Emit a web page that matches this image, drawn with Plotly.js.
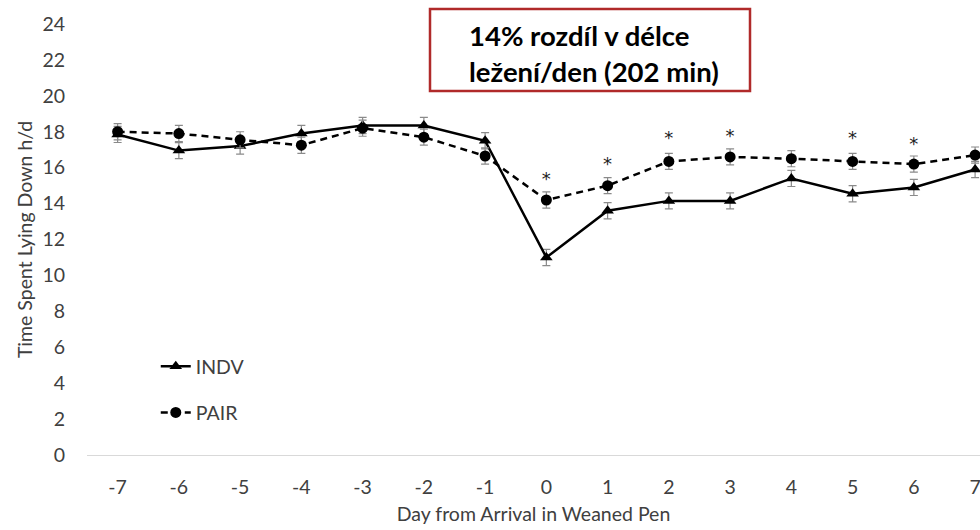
<!DOCTYPE html>
<html>
<head>
<meta charset="utf-8">
<script src="https://cdn.plot.ly/plotly-3.0.1.min.js"></script>
<style>html,body{margin:0;padding:0;background:#fff;overflow:hidden}#chart{width:980px;height:530px}</style>
</head>
<body>
<div id="chart"></div>
<script>
const days = [-7,-6,-5,-4,-3,-2,-1,0,1,2,3,4,5,6,7];
const indv = [17.85,16.95,17.2,17.9,18.35,18.35,17.5,11.0,13.6,14.15,14.15,15.4,14.55,14.9,15.9];
const pair = [18.0,17.9,17.55,17.25,18.2,17.7,16.65,14.2,15.0,16.35,16.6,16.5,16.35,16.2,16.7];
const indvErr = [0.45,0.45,0.45,0.45,0.45,0.45,0.45,0.45,0.45,0.45,0.45,0.45,0.45,0.45,0.45];
const pairErr = [0.45,0.45,0.45,0.45,0.45,0.45,0.45,0.45,0.45,0.45,0.45,0.45,0.45,0.45,0.45];
const starDays = [0,1,2,3,5,6];
const starY = [15.3,16.1,17.55,17.7,17.55,17.25];
const tickVals = [-7,-6,-5,-4,-3,-2,-1,0,1,2,3,4,5,6,7];
const yTicks = [0,2,4,6,8,10,12,14,16,18,20,22,24];
const boxLines = ['14% rozdíl v délce','ležení/den (202 min)'];

const font = 'Lato, "Open Sans", sans-serif';
const txt = '#404040';
const fs = 19.5;

const traces = [
  {x: days, y: indv, name: 'INDV', type: 'scatter', mode: 'lines+markers',
   line: {color: '#000', width: 2.5},
   marker: {symbol: 'triangle-up', size: 11, color: '#000'},
   error_y: {type: 'data', array: indvErr, visible: true, color: '#8a8a8a', thickness: 1.2, width: 4},
   legend: 'legend'},
  {x: days, y: pair, name: 'PAIR', type: 'scatter', mode: 'lines+markers',
   line: {color: '#000', width: 2.5, dash: '7px,5px'},
   marker: {symbol: 'circle', size: 11, color: '#000'},
   error_y: {type: 'data', array: pairErr, visible: true, color: '#8a8a8a', thickness: 1.2, width: 4},
   legend: 'legend2'},
  {x: starDays, y: starY, type: 'scatter', mode: 'text', text: starDays.map(() => '*'),
   textposition: 'middle center', textfont: {family: '"DejaVu Sans", sans-serif', size: 18, color: '#222'},
   showlegend: false, hoverinfo: 'skip'}
];

const layout = {
  width: 980, height: 530,
  margin: {l: 87, r: 0, t: 24, b: 75},
  paper_bgcolor: '#fff', plot_bgcolor: '#fff',
  font: {family: font, size: fs, color: txt},
  showlegend: true,
  xaxis: {
    range: [-7.5, 7.08], tickmode: 'array', tickvals: tickVals, ticktext: tickVals.map(String),
    showgrid: false, zeroline: false, showline: true, linecolor: '#d9d9d9', linewidth: 1,
    ticks: '', ticklabelstandoff: 15, ticklabeloverflow: 'allow', tickfont: {family: font, size: fs, color: txt},
    title: {text: 'Day from Arrival in Weaned Pen', font: {family: font, size: fs, color: txt}, standoff: 9}
  },
  yaxis: {
    range: [0, 24], tickmode: 'array', tickvals: yTicks, ticktext: yTicks.map(String),
    showgrid: false, zeroline: false, showline: false,
    ticks: '', ticklabelstandoff: 21, tickfont: {family: font, size: fs, color: txt},
    title: {text: 'Time Spent Lying Down h/d', font: {family: font, size: fs, color: txt}, standoff: 4}
  },
  legend: {x: 0.077, y: 0.205, xanchor: 'left', yanchor: 'middle', bgcolor: 'rgba(0,0,0,0)',
           font: {family: font, size: fs, color: txt}},
  legend2: {x: 0.077, y: 0.098, xanchor: 'left', yanchor: 'middle', bgcolor: 'rgba(0,0,0,0)',
            font: {family: font, size: fs, color: txt}},
  shapes: [
    {type: 'rect', xref: 'paper', yref: 'paper', x0: (430-87)/893, x1: (750-87)/893,
     y0: (455-91)/431, y1: (455-9)/431, line: {color: '#b02a2a', width: 2.5}, fillcolor: 'rgba(0,0,0,0)'}
  ],
  annotations: [
    {xref: 'paper', yref: 'paper', x: (467-87)/893, y: (455-54)/431, xanchor: 'left', yanchor: 'middle',
     text: '<b>' + boxLines[0] + '</b><br><b>' + boxLines[1] + '</b>', align: 'left', showarrow: false,
     font: {family: font, size: 27.5, color: '#000'}}
  ]
};

Plotly.newPlot('chart', traces, layout, {displayModeBar: false, staticPlot: true});
</script>
</body>
</html>
